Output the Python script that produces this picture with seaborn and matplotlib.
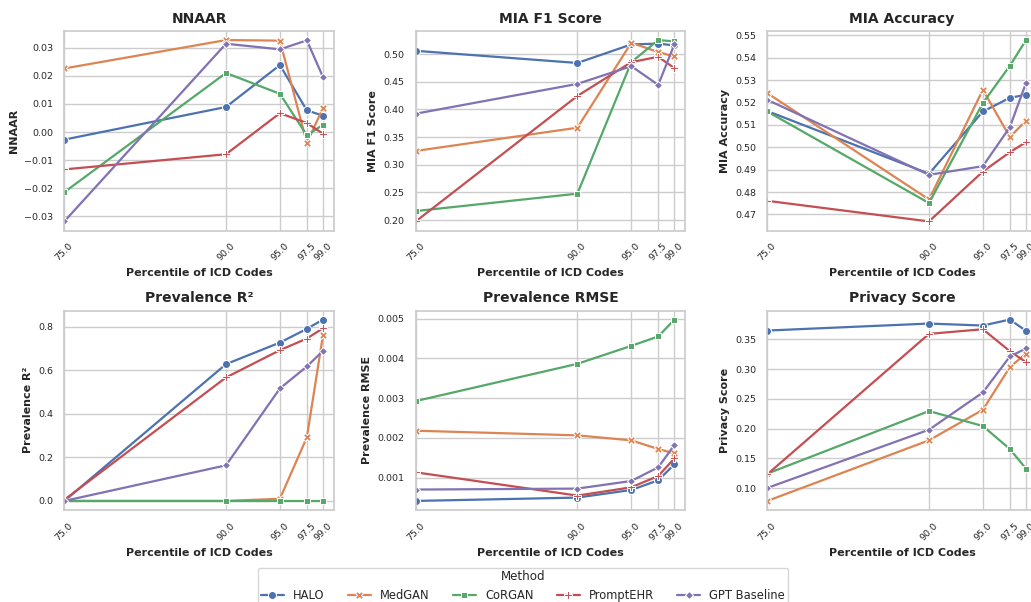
import numpy as np
import pandas as pd
import matplotlib
matplotlib.use("Agg")
import matplotlib.pyplot as plt
import seaborn as sns

percentiles = [75.0, 90.0, 95.0, 97.5, 99.0]
methods = ["HALO", "MedGAN", "CoRGAN", "PromptEHR", "GPT Baseline"]

nnaar = {
    "HALO":         [-0.0027, 0.0089, 0.0238, 0.0077, 0.0058],
    "MedGAN":       [0.0226, 0.0327, 0.0325, -0.0039, 0.0086],
    "CoRGAN":       [-0.0214, 0.0210, 0.0136, -0.0012, 0.0026],
    "PromptEHR":    [-0.0133, -0.0079, 0.0067, 0.0032, -0.0006],
    "GPT Baseline": [-0.0318, 0.0314, 0.0294, 0.0326, 0.0195],
}
mia_f1 = {
    "HALO":         [0.506, 0.484, 0.5175, 0.519, 0.5157],
    "MedGAN":       [0.325, 0.367, 0.5206, 0.5036, 0.4958],
    "CoRGAN":       [0.2163, 0.2478, 0.4855, 0.5254, 0.523],
    "PromptEHR":    [0.1976, 0.4244, 0.4855, 0.4952, 0.4746],
    "GPT Baseline": [0.3923, 0.4462, 0.4782, 0.4444, 0.518],
}
mia_acc = {
    "HALO":         [0.5162, 0.4882, 0.5160, 0.5221, 0.5235],
    "MedGAN":       [0.5242, 0.4767, 0.5257, 0.5046, 0.5119],
    "CoRGAN":       [0.5160, 0.4751, 0.5198, 0.5364, 0.5479],
    "PromptEHR":    [0.4761, 0.4669, 0.4892, 0.4978, 0.5023],
    "GPT Baseline": [0.5212, 0.4877, 0.4916, 0.5090, 0.5288],
}
prev_r2 = {
    "HALO":         [0.0, 0.6287, 0.728, 0.791, 0.8337],
    "MedGAN":       [0.0, 0.0, 0.01, 0.292, 0.763],
    "CoRGAN":       [0.0, 0.0, 0.0, 0.0, 0.0],
    "PromptEHR":    [0.005, 0.5675, 0.693, 0.7465, 0.794],
    "GPT Baseline": [0.0, 0.1637, 0.517, 0.618, 0.690],
}
prev_rmse = {
    "HALO":         [0.000414, 0.000498, 0.00069, 0.000933, 0.001335],
    "MedGAN":       [0.00218, 0.002063, 0.001937, 0.00172, 0.00161],
    "CoRGAN":       [0.002925, 0.003862, 0.004314, 0.00455, 0.004975],
    "PromptEHR":    [0.001134, 0.000548, 0.000757, 0.001042, 0.001485],
    "GPT Baseline": [0.0007, 0.000724, 0.000916, 0.00126, 0.00182],
}
privacy = {
    "HALO":         [0.3645, 0.3762, 0.3729, 0.3829, 0.364],
    "MedGAN":       [0.0788, 0.1804, 0.2317, 0.3031, 0.326],
    "CoRGAN":       [0.1246, 0.2295, 0.2044, 0.1658, 0.1329],
    "PromptEHR":    [0.1234, 0.3589, 0.3667, 0.3299, 0.3115],
    "GPT Baseline": [0.1006, 0.1982, 0.2607, 0.3210, 0.3344],
}

metrics = [
    ("NNAAR", "NNAAR", nnaar),
    ("MIA F1 Score", "MIA F1 Score", mia_f1),
    ("MIA Accuracy", "MIA Accuracy", mia_acc),
    ("Prevalence R²", "Prevalence R²", prev_r2),
    ("Prevalence RMSE", "Prevalence RMSE", prev_rmse),
    ("Privacy Score", "Privacy Score", privacy),
]

sns.set_theme(style="whitegrid", palette="deep")
plt.rcParams['font.family'] = ['DejaVu Sans']

W, H = 1031, 602
fig = plt.figure(figsize=(W / 100, H / 100), dpi=100)

lefts = [64.3, 415.7, 767.3]
tops = [31.0, 310.5]
aw, ah = 269.5, 199.5

handles = labels = None
for i, (title, ylabel, data) in enumerate(metrics):
    r, c = divmod(i, 3)
    l, t = lefts[c], tops[r]
    ax = fig.add_axes([l / W, 1 - (t + ah) / H, aw / W, ah / H])
    rows = []
    for m in methods:
        for p, v in zip(percentiles, data[m]):
            rows.append({"Percentile": p, "Value": v, "Method": m})
    df = pd.DataFrame(rows)
    sns.lineplot(data=df, x="Percentile", y="Value", hue="Method", style="Method",
                 hue_order=methods, style_order=methods, markers=True, dashes=False,
                 linewidth=1.6, markersize=5.8, ax=ax)
    ax.set_xlim(75, 100)
    ax.set_xticks(percentiles)
    ax.set_xticklabels([f"{p:.1f}" for p in percentiles], rotation=45, fontsize=6.8)
    ax.tick_params(axis="y", labelsize=6.8, pad=2)
    ax.tick_params(axis="x", pad=2)
    ax.set_title(title, fontsize=10, fontweight="bold", pad=6)
    ax.set_xlabel("Percentile of ICD Codes", fontsize=8, fontweight="bold")
    ax.set_ylabel(ylabel, fontsize=8, fontweight="bold")
    handles, labels = ax.get_legend_handles_labels()
    ax.get_legend().remove()

fig.legend(handles, labels, loc="upper center", bbox_to_anchor=(523 / W, 1 - 567.5 / H),
           ncol=5, title="Method", fontsize=8.3, title_fontsize=8.6, frameon=True,
           borderaxespad=0, borderpad=0.25, handletextpad=0.8, columnspacing=2.0)

fig.savefig("out.png", dpi=100)
